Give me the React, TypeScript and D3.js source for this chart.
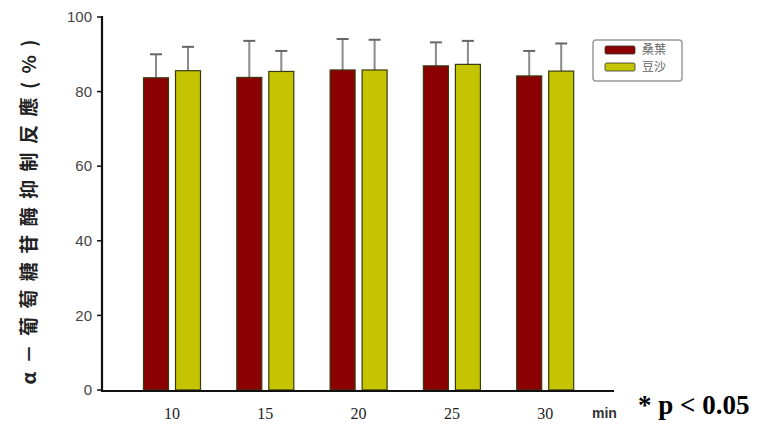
import React from "react";
import * as d3 from "d3";

const categories = ["10", "15", "20", "25", "30"];
const seriesNames = ["桑葉", "豆沙"];
const mulberryMean = [83.7, 83.8, 85.8, 86.9, 84.2];
const mulberryErr = [6.3, 9.8, 8.3, 6.3, 6.7];
const otherMean = [85.6, 85.4, 85.8, 87.3, 85.5];
const otherErr = [6.4, 5.5, 8.1, 6.3, 7.4];
const yTicks = [0, 20, 40, 60, 80, 100];

const W = 759;
const H = 432;
const colors = ["#8b0000", "#c4c400"];

export default function App() {
  const x = d3.scaleBand<string>().domain(categories).range([143.5, 573.7]).paddingInner(0.389).paddingOuter(0);
  const sub = d3.scaleBand<number>().domain([0, 1]).range([0, x.bandwidth()]).paddingInner(0.219);
  const y = d3.scaleLinear().domain([0, 100]).range([390, 17]);

  const series = [
    { mean: mulberryMean, err: mulberryErr },
    { mean: otherMean, err: otherErr },
  ];

  return (
    <svg width={W} height={H} style={{ position: "absolute", left: 0, top: 0, background: "#fff" }}>
      {/* bars with error bars */}
      {series.map((s, si) =>
        categories.map((c, ci) => {
          const bx = (x(c) as number) + (sub(si) as number);
          const bw = sub.bandwidth();
          const top = y(s.mean[ci]);
          const cap = y(s.mean[ci] + s.err[ci]);
          const cx = bx + bw / 2;
          return (
            <g key={`${si}-${ci}`}>
              <line x1={cx} x2={cx} y1={top} y2={cap} stroke="#8a8a8a" strokeWidth={2} />
              <line x1={cx - 6} x2={cx + 6} y1={cap} y2={cap} stroke="#666" strokeWidth={2} />
              <rect x={bx} y={top} width={bw} height={y(0) - top} fill={colors[si]} stroke="#3a3a10" strokeWidth={1.2} />
            </g>
          );
        })
      )}

      {/* axes */}
      <line x1={102} x2={102} y1={16} y2={391} stroke="#111" strokeWidth={2.2} />
      <line x1={101} x2={614} y1={391} y2={391} stroke="#111" strokeWidth={2.2} />
      {yTicks.map((t) => (
        <g key={t}>
          <line x1={97} x2={102} y1={y(t)} y2={y(t)} stroke="#111" strokeWidth={1.5} />
          <text x={92} y={y(t)} dy="0.35em" textAnchor="end" fontFamily="Liberation Sans, Arial, sans-serif" fontSize={15} fill="#444">
            {t}
          </text>
        </g>
      ))}
      {categories.map((c) => (
        <text
          key={c}
          x={(x(c) as number) + x.bandwidth() / 2}
          y={419}
          textAnchor="middle"
          fontFamily="Liberation Serif, Times New Roman, serif"
          fontSize={16}
          fill="#222"
        >
          {c}
        </text>
      ))}
      <text x={592} y={418} fontFamily="Liberation Sans, Arial, sans-serif" fontWeight="bold" fontSize={14} fill="#333">
        min
      </text>
      <text x={638} y={414} fontFamily="Liberation Serif, Times New Roman, serif" fontWeight="bold" fontSize={27} fill="#000">
        * p &lt; 0.05
      </text>

      {/* y-axis title */}
      <text
        transform="translate(36,212) rotate(-90)"
        textAnchor="middle"
        fontFamily="Noto Sans CJK TC, sans-serif"
        fontWeight="bold"
        fontSize={19}
        fill="#222"
        textLength={345}
        lengthAdjust="spacing"
      >
        α－葡萄糖苷酶抑制反應(%)
      </text>

      {/* legend */}
      <rect x={593} y={40} width={89} height={41} rx={3} fill="#fff" stroke="#999" strokeWidth={1.5} />
      {seriesNames.map((n, i) => (
        <g key={n}>
          <rect x={605} y={46 + i * 17} width={30} height={8} rx={1.5} fill={colors[i]} stroke="#333" strokeWidth={0.8} />
          <text x={642} y={50 + i * 17} dy="0.35em" fontFamily="Noto Sans CJK TC, sans-serif" fontSize={12} fill="#666">
            {n}
          </text>
        </g>
      ))}
    </svg>
  );
}
